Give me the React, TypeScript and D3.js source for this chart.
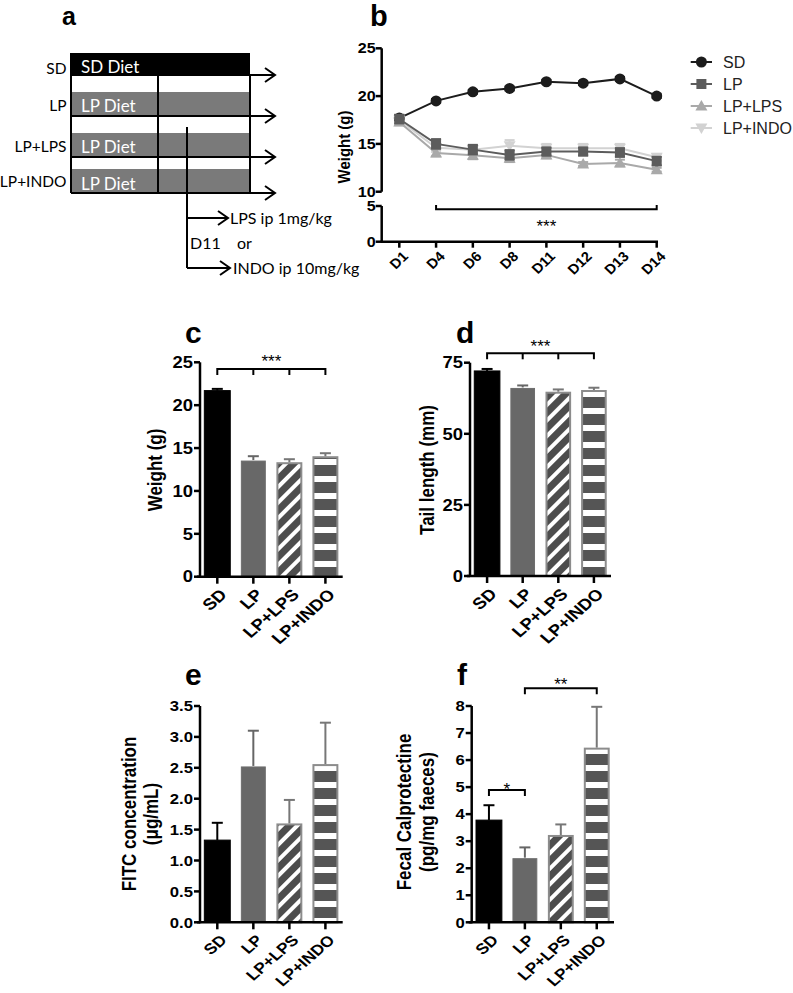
import React from "react";
import * as d3 from "d3";

// ---------- data ----------
const groups = ["SD", "LP", "LP+LPS", "LP+INDO"];

const weightMean = [21.7, 13.6, 13.35, 14.05];
const weightErr = [0.2, 0.45, 0.35, 0.35];
const weightTicks = [0, 5, 10, 15, 20, 25];

const tailMean = [72.1, 66.3, 64.8, 65.4];
const tailErr = [0.7, 0.7, 0.8, 0.8];
const tailTicks = [0, 25, 50, 75];

const fitcMean = [1.33, 2.53, 1.6, 2.56];
const fitcErr = [0.28, 0.57, 0.38, 0.67];
const fitcTicks = [0, 0.5, 1, 1.5, 2, 2.5, 3, 3.5];

const calproMean = [3.78, 2.39, 3.23, 6.46];
const calproErr = [0.55, 0.38, 0.39, 1.51];
const calproTicks = [0, 1, 2, 3, 4, 5, 6, 7, 8];

const days = ["D1", "D4", "D6", "D8", "D11", "D12", "D13", "D14"];
const sdWeight = [17.7, 19.5, 20.45, 20.8, 21.5, 21.35, 21.8, 20.0];
const sdWeightErr = [0.25, 0.2, 0.2, 0.2, 0.2, 0.2, 0.2, 0.2];
const lpWeight = [17.6, 15.0, 14.4, 13.85, 14.2, 14.2, 14.1, 13.2];
const lpWeightErr = [0.45, 0.5, 0.5, 0.5, 0.4, 0.4, 0.45, 0.45];
const lpsWeight = [17.3, 14.05, 13.8, 13.5, 13.85, 12.9, 13.0, 12.3];
const lpsWeightErr = [0.35, 0.35, 0.4, 0.4, 0.35, 0.2, 0.35, 0.2];
const indoWeight = [17.5, 14.6, 14.4, 14.8, 14.55, 14.55, 14.55, 13.6];
const indoWeightErr = [0.45, 0.45, 0.45, 0.6, 0.45, 0.45, 0.45, 0.35];
const upperTicks = [10, 15, 20, 25];
const lowerTicks = [0, 5];

const schemeRows = [
  { label: "SD", diet: "SD Diet" },
  { label: "LP", diet: "LP Diet" },
  { label: "LP+LPS", diet: "LP Diet" },
  { label: "LP+INDO", diet: "LP Diet" },
];

// ---------- styles ----------
const FONT = "'Liberation Sans', Arial, Helvetica, sans-serif";
const CAL = "Lato, 'Open Sans', sans-serif";
const SX = 1.15; // horizontal stretch of the bold labels

const barFill = ["#000", "#686868", "url(#diag)", "url(#hstripe)"];
const barStroke = ["#000", "#6e6e6e", "#8c8c8c", "#8c8c8c"];
const errColor = ["#000", "#666", "#777", "#777"];

function Arrow({ x1, x2, y }: { x1: number; x2: number; y: number }) {
  return (
    <path
      d={`M${x1},${y} H${x2} M${x2 - 10},${y - 7} L${x2},${y} L${x2 - 10},${y + 7}`}
      stroke="#000"
      strokeWidth={2}
      fill="none"
    />
  );
}

function PanelA() {
  const left = 71;
  const right = 250;
  const arrowEnd = 275;
  const tops = [53, 92, 133, 169];
  const bottoms = [75, 116, 157, 193];
  const labelOff = [4.5, 1, 1, 0];
  const dietOff = [2.5, 2, 2, 2.5];
  const mid = 158;
  const branch = 187;
  return (
    <g>
      <text x={62} y={25} fontFamily={FONT} fontWeight="bold" fontSize={25}>
        a
      </text>
      {schemeRows.map((r, i) => {
        const c = (tops[i] + bottoms[i]) / 2;
        return (
          <g key={r.label}>
            <rect x={left} y={tops[i]} width={right - left} height={bottoms[i] - tops[i]} fill={i === 0 ? "#000" : "#7a7a7a"} />
            <text x={81} y={c + dietOff[i]} dy="0.36em" fill="#fff" fontFamily={CAL} fontSize={17}>
              {r.diet}
            </text>
            <text x={66.5} y={c + labelOff[i]} dy="0.36em" textAnchor="end" fill="#000" fontFamily={CAL} fontSize={15.5}>
              {r.label}
            </text>
            <Arrow x1={left} x2={arrowEnd} y={bottoms[i]} />
          </g>
        );
      })}
      <line x1={left} x2={left} y1={tops[0]} y2={bottoms[3]} stroke="#000" strokeWidth={2} />
      <line x1={right} x2={right} y1={bottoms[0]} y2={bottoms[3]} stroke="#000" strokeWidth={2} />
      <line x1={mid} x2={mid} y1={bottoms[0]} y2={bottoms[3]} stroke="#000" strokeWidth={2} />
      <line x1={branch} x2={branch} y1={127} y2={268} stroke="#000" strokeWidth={2} />
      <Arrow x1={branch} x2={228} y={218} />
      <Arrow x1={branch} x2={230} y={268} />
      <text x={230} y={218} dy="0.36em" fontFamily={CAL} fontSize={16}>
        LPS ip 1mg/kg
      </text>
      <text x={190} y={243} dy="0.36em" fontFamily={CAL} fontSize={16}>
        D11
      </text>
      <text x={237} y={243} dy="0.36em" fontFamily={CAL} fontSize={16}>
        or
      </text>
      <text x={233} y={268} dy="0.36em" fontFamily={CAL} fontSize={16}>
        INDO ip 10mg/kg
      </text>
    </g>
  );
}

function Marker({ kind, x, y, color }: { kind: string; x: number; y: number; color: string }) {
  if (kind === "circle") return <circle cx={x} cy={y} r={5.5} fill={color} />;
  if (kind === "square") return <rect x={x - 5} y={y - 5} width={10} height={10} fill={color} />;
  if (kind === "up")
    return <path d={`M${x},${y - 6} L${x + 6},${y + 4.5} L${x - 6},${y + 4.5} Z`} fill={color} />;
  return <path d={`M${x},${y + 6} L${x + 6},${y - 4.5} L${x - 6},${y - 4.5} Z`} fill={color} />;
}

function PanelB() {
  const axisX = 381.7;
  const axisY = 241.7;
  const x = d3.scalePoint().domain(days).range([399.3, 656.7]);
  const yU = d3.scaleLinear().domain([10, 25]).range([191.7, 48.3]);
  const yL = d3.scaleLinear().domain([0, 5]).range([axisY, 206]);
  const series = [
    { name: "SD", v: sdWeight, e: sdWeightErr, color: "#1c1c1c", kind: "circle" },
    { name: "LP+INDO", v: indoWeight, e: indoWeightErr, color: "#d2d2d2", kind: "down" },
    { name: "LP+LPS", v: lpsWeight, e: lpsWeightErr, color: "#a9a9a9", kind: "up" },
    { name: "LP", v: lpWeight, e: lpWeightErr, color: "#5c5c5c", kind: "square" },
  ];
  const legend = [series[0], series[3], series[2], series[1]];
  const line = d3
    .line<number>()
    .x((_, i) => x(days[i]) as number)
    .y((d) => yU(d));
  return (
    <g fontFamily={FONT}>
      <text x={370} y={26} fontWeight="bold" fontSize={29}>
        b
      </text>
      {series.map((s) => (
        <g key={s.name}>
          <path d={line(s.v) || ""} stroke={s.color} strokeWidth={2} fill="none" />
          {s.v.map((v, i) => {
            const cx = x(days[i]) as number;
            return (
              <g key={i}>
                <line x1={cx} x2={cx} y1={yU(v - s.e[i])} y2={yU(v + s.e[i])} stroke={s.color} strokeWidth={2} />
                <line x1={cx - 5} x2={cx + 5} y1={yU(v + s.e[i])} y2={yU(v + s.e[i])} stroke={s.color} strokeWidth={2} />
                <line x1={cx - 5} x2={cx + 5} y1={yU(v - s.e[i])} y2={yU(v - s.e[i])} stroke={s.color} strokeWidth={2} />
                <Marker kind={s.kind} x={cx} y={yU(v)} color={s.color} />
              </g>
            );
          })}
        </g>
      ))}
      {/* axes */}
      <line x1={axisX} x2={axisX} y1={yU(25)} y2={yU(10)} stroke="#000" strokeWidth={2.5} />
      <line x1={axisX} x2={axisX} y1={yL(5)} y2={axisY} stroke="#000" strokeWidth={2.5} />
      <line x1={axisX - 1} x2={658} y1={axisY} y2={axisY} stroke="#000" strokeWidth={2.5} />
      {[...upperTicks.map((t) => ({ t, y: yU(t) })), ...lowerTicks.map((t) => ({ t, y: yL(t) }))].map((o) => (
        <g key={"t" + o.t}>
          <line x1={axisX - 6} x2={axisX} y1={o.y} y2={o.y} stroke="#000" strokeWidth={2.5} />
          <text
            transform={`translate(${axisX - 6},${o.y}) scale(${SX},1)`}
            dy="0.36em"
            textAnchor="end"
            fontWeight="bold"
            fontSize={14}
          >
            {o.t}
          </text>
        </g>
      ))}
      {days.map((d) => {
        const cx = x(d) as number;
        return (
          <g key={d}>
            <line x1={cx} x2={cx} y1={axisY} y2={axisY + 6} stroke="#000" strokeWidth={2.5} />
            <text
              transform={`translate(${cx + 6},${axisY + 12}) scale(1.05,1) rotate(-45)`}
              dy="0.36em"
              textAnchor="end"
              fontWeight="bold"
              fontSize={14}
            >
              {d}
            </text>
          </g>
        );
      })}
      <text
        transform={`translate(344,147) scale(${SX},1) rotate(-90)`}
        dy="0.36em"
        textAnchor="middle"
        fontWeight="bold"
        fontSize={15}
      >
        Weight (g)
      </text>
      {/* significance bracket */}
      <path d={`M${x("D4")},205 V209.3 H${x("D14")} V205`} stroke="#000" strokeWidth={2} fill="none" />
      <text x={((x("D4") as number) + (x("D14") as number)) / 2} y={232} textAnchor="middle" fontSize={17}>
        ***
      </text>
      {/* legend */}
      {legend.map((s, i) => {
        const ly = 62 + i * 22;
        return (
          <g key={"lg" + s.name}>
            <line x1={690.7} x2={712} y1={ly} y2={ly} stroke={s.color} strokeWidth={2} />
            <Marker kind={s.kind} x={701.4} y={ly} color={s.color} />
            <text x={723} y={ly} dy="0.36em" fontSize={16} fill="#222">
              {s.name}
            </text>
          </g>
        );
      })}
    </g>
  );
}

type Bracket = { from: number; to: number; y: number; drops: number[]; text: string; textY: number };

type BarProps = {
  letter: string;
  letterX: number;
  letterY: number;
  axisX: number;
  axisRight: number;
  top: number;
  bottom: number;
  max: number;
  ticks: number[];
  fmt: (v: number) => string;
  values: number[];
  errs: number[];
  labels: string[];
  labelX: number;
  labelY: number;
  labelGap: number;
  tickFont: number;
  xFont: number;
  brackets: Bracket[];
};

function BarPanel(p: BarProps) {
  const y = d3.scaleLinear().domain([0, p.max]).range([p.bottom, p.top]);
  const x = d3.scaleBand().domain(groups).range([p.axisX, p.axisRight]).paddingInner(0.28).paddingOuter(0.12);
  const bw = x.bandwidth();
  const cx = (i: number) => (x(groups[i]) as number) + bw / 2;
  return (
    <g fontFamily={FONT}>
      <text x={p.letterX} y={p.letterY} fontWeight="bold" fontSize={30}>
        {p.letter}
      </text>
      {groups.map((g, i) => {
        const x0 = x(g) as number;
        const inset = i >= 1 ? 1 : 0;
        return (
          <rect
            key={g}
            x={x0 + inset}
            y={y(p.values[i]) + inset}
            width={bw - 2 * inset}
            height={y(0) - y(p.values[i]) - inset}
            fill={barFill[i]}
            stroke={barStroke[i]}
            strokeWidth={i >= 2 ? 2 : 1}
          />
        );
      })}
      {groups.map((g, i) => {
        const c = cx(i);
        const y1 = y(p.values[i]);
        const y2 = y(p.values[i] + p.errs[i]);
        return (
          <g key={"e" + g}>
            <line x1={c} x2={c} y1={y1} y2={y2} stroke={errColor[i]} strokeWidth={2} />
            <line x1={c - 5.5} x2={c + 5.5} y1={y2} y2={y2} stroke={errColor[i]} strokeWidth={2} />
          </g>
        );
      })}
      <line x1={p.axisX} x2={p.axisX} y1={p.top} y2={p.bottom + 1} stroke="#000" strokeWidth={2.5} />
      <line x1={p.axisX - 3} x2={p.axisRight} y1={p.bottom} y2={p.bottom} stroke="#000" strokeWidth={2.5} />
      {p.ticks.map((t) => (
        <g key={"t" + t}>
          <line x1={p.axisX - 6} x2={p.axisX} y1={y(t)} y2={y(t)} stroke="#000" strokeWidth={2.5} />
          <text
            transform={`translate(${p.axisX - 7},${y(t)}) scale(${SX},1)`}
            dy="0.36em"
            textAnchor="end"
            fontWeight="bold"
            fontSize={p.tickFont}
          >
            {p.fmt(t)}
          </text>
        </g>
      ))}
      {groups.map((g, i) => (
        <g key={"x" + g}>
          <line x1={cx(i)} x2={cx(i)} y1={p.bottom} y2={p.bottom + 7} stroke="#000" strokeWidth={2.5} />
          <text
            transform={`translate(${cx(i) + 6},${p.bottom + 15}) scale(${SX},1) rotate(-45)`}
            dy="0.36em"
            textAnchor="end"
            fontWeight="bold"
            fontSize={p.xFont}
          >
            {g}
          </text>
        </g>
      ))}
      {p.labels.map((l, i) => (
        <text
          key={l}
          transform={`translate(${p.labelX + i * p.labelGap},${p.labelY}) scale(${SX},1) rotate(-90)`}
          dy="0.36em"
          textAnchor="middle"
          fontWeight="bold"
          fontSize={17}
        >
          {l}
        </text>
      ))}
      {p.brackets.map((b, k) => {
        const xa = cx(b.from);
        const xb = cx(b.to);
        return (
          <g key={"b" + k}>
            <path d={`M${xa},${b.y + 6} V${b.y} H${xb} V${b.y + 6}`} stroke="#000" strokeWidth={2} fill="none" />
            {b.drops.map((d) => (
              <line key={d} x1={cx(d)} x2={cx(d)} y1={b.y} y2={b.y + 6} stroke="#000" strokeWidth={2} />
            ))}
            <text x={(xa + xb) / 2} y={b.textY} textAnchor="middle" fontSize={17}>
              {b.text}
            </text>
          </g>
        );
      })}
    </g>
  );
}

export default function App() {
  const f0 = (v: number) => String(v);
  const f1 = (v: number) => v.toFixed(1);
  return (
    <svg width={793} height={993} viewBox="0 0 793 993" style={{ position: "absolute", left: 0, top: 0, background: "#fff" }}>
      <defs>
        <pattern id="diag" patternUnits="userSpaceOnUse" width={11} height={11} patternTransform="rotate(45)">
          <rect width={11} height={11} fill="#4d4d4d" />
          <rect width={4} height={11} fill="#fff" />
        </pattern>
        <pattern id="hstripe" patternUnits="userSpaceOnUse" width={10} height={17}>
          <rect width={10} height={17} fill="#555" />
          <rect width={10} height={6} fill="#fff" />
        </pattern>
      </defs>
      <PanelA />
      <PanelB />
      <BarPanel
        letter="c"
        letterX={185}
        letterY={343}
        axisX={200}
        axisRight={342.7}
        top={362.3}
        bottom={576.7}
        max={25}
        ticks={weightTicks}
        fmt={f0}
        values={weightMean}
        errs={weightErr}
        labels={["Weight (g)"]}
        labelX={155}
        labelY={470}
        labelGap={0}
        tickFont={16}
        xFont={16}
        brackets={[{ from: 0, to: 3, y: 369, drops: [1, 2], text: "***", textY: 367 }]}
      />
      <BarPanel
        letter="d"
        letterX={456}
        letterY={343}
        axisX={470}
        axisRight={611}
        top={362.7}
        bottom={576}
        max={75}
        ticks={tailTicks}
        fmt={f0}
        values={tailMean}
        errs={tailErr}
        labels={["Tail length (mm)"]}
        labelX={427}
        labelY={470}
        labelGap={0}
        tickFont={16}
        xFont={16}
        brackets={[{ from: 0, to: 3, y: 353.3, drops: [1, 2], text: "***", textY: 352 }]}
      />
      <BarPanel
        letter="e"
        letterX={185}
        letterY={685}
        axisX={200}
        axisRight={342.7}
        top={706}
        bottom={922.3}
        max={3.5}
        ticks={fitcTicks}
        fmt={f1}
        values={fitcMean}
        errs={fitcErr}
        labels={["FITC concentration", "(\u03bcg/mL)"]}
        labelX={129}
        labelY={814}
        labelGap={21.5}
        tickFont={14.5}
        xFont={15}
        brackets={[]}
      />
      <BarPanel
        letter="f"
        letterX={457}
        letterY={685}
        axisX={471.7}
        axisRight={614}
        top={706}
        bottom={922.3}
        max={8}
        ticks={calproTicks}
        fmt={f0}
        values={calproMean}
        errs={calproErr}
        labels={["Fecal Calprotectine", "(pg/mg faeces)"]}
        labelX={404}
        labelY={812}
        labelGap={22.5}
        tickFont={14.5}
        xFont={15}
        brackets={[
          { from: 0, to: 1, y: 790, drops: [], text: "*", textY: 795 },
          { from: 1, to: 3, y: 688.3, drops: [], text: "**", textY: 690 },
        ]}
      />
    </svg>
  );
}
